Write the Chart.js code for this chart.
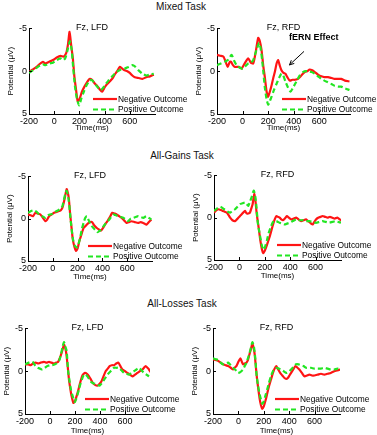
<!DOCTYPE html>
<html>
<head>
<meta charset="utf-8">
<script src="https://cdn.jsdelivr.net/npm/chart.js@4"></script>
<style>
  html, body { margin: 0; padding: 0; background: #fff; }
  body { width: 377px; height: 435px; position: relative; overflow: hidden; font-family: "Liberation Sans", Arial, sans-serif; }
  .hdr { position: absolute; font-size: 10px; color: #111; transform: translate(-50%, -50%); white-space: nowrap; }
  canvas { position: absolute; }
</style>
</head>
<body>
<script>
// ---------- labels ----------
const taskTitles = ['Mixed Task', 'All-Gains Task', 'All-Losses Task'];
const panelTitles = ['Fz, LFD', 'Fz, RFD'];
const seriesNames = ['Negative Outcome', 'Positive Outcome'];
const xTicks = [-200, 0, 200, 400, 600];
const yTicks = [-5, 0, 5];
const xAxisTitle = 'Time(ms)';
const yAxisTitle = 'Potential (\u03bcV)';
const annotationText = 'fERN Effect';

// ---------- Mixed task, LFD ----------
const mixedLfdNegT = [-200,-170,-140,-110,-90,-70,-40,-10,20,50,75,95,110,122,135,148,160,172,186,200,220,240,260,280,300,320,340,360,380,400,420,440,460,480,500,520,540,560,580,600,620,640,670,700,730,760,790];
const mixedLfdNegV = [0.1,-0.2,-0.5,-0.9,-1.1,-0.9,-1.1,-1.3,-1.6,-1.8,-1.7,-2.1,-3.2,-4.6,-3.0,-1.5,0.6,2.0,3.5,3.3,2.4,1.8,1.3,0.9,1.0,1.4,1.7,2.1,2.4,1.9,1.5,1.2,0.9,0.4,0.0,-0.5,-0.3,-0.1,0.0,0.2,0.5,0.7,0.8,0.9,0.7,0.6,0.4];
const mixedLfdPosT = [-200,-170,-140,-110,-90,-70,-40,-10,20,50,75,90,105,124,138,150,165,180,198,215,235,255,275,295,315,340,370,390,410,430,455,480,505,530,560,590,620,645,670,700,730,760,790];
const mixedLfdPosV = [0.2,-0.1,-0.4,-0.7,-0.8,-0.7,-0.9,-1.0,-1.3,-1.5,-1.3,-1.6,-2.4,-3.5,-2.6,-0.5,1.8,3.2,4.0,3.2,2.4,1.7,1.2,1.0,1.3,1.8,2.2,1.9,1.5,1.1,0.7,0.3,0.0,-0.2,-0.3,-0.5,-0.7,-0.5,-0.1,0.3,0.5,0.4,0.3];

// ---------- Mixed task, RFD ----------
const mixedRfdNegT = [-200,-175,-150,-130,-117,-100,-90,-75,-60,-30,-8,20,44,65,83,100,122,135,148,162,174,188,200,213,226,240,252,266,278,290,304,320,335,350,369,390,408,430,447,465,486,505,525,545,564,590,616,640,668,695,719,745,771,800,836];
const mixedRfdNegV = [-1.9,-1.8,-1.7,-1.0,-0.5,-1.1,-1.1,-0.7,-0.5,-0.5,-0.3,-1.0,-1.5,-1.0,-0.9,-2.0,-3.9,-3.5,-2.5,-0.6,0.7,2.4,3.0,2.4,1.7,0.8,0.1,-0.9,-1.3,-0.7,-0.1,0.2,0.3,0.7,1.1,1.0,1.0,0.9,0.7,0.4,0.1,0.0,-0.2,-0.1,0.1,0.4,0.6,0.7,0.7,0.8,0.9,0.9,0.9,1.1,1.2];
const mixedRfdPosT = [-200,-170,-138,-115,-86,-65,-47,-20,0,22,44,65,83,109,130,142,153,163,174,187,200,213,226,245,265,285,304,318,335,355,375,392,410,428,447,473,490,512,540,564,590,616,640,668,695,719,745,771,800,836];
const mixedRfdPosV = [-0.7,-0.9,-1.1,-1.3,-1.9,-1.2,-0.7,-0.4,-0.3,-0.6,-0.9,-1.0,-1.3,-2.5,-3.3,-2.6,-1.3,0.2,1.9,3.2,3.9,3.5,3.0,2.2,1.5,0.8,0.3,0.5,1.2,1.9,2.4,2.0,1.5,1.0,0.5,0.1,0.0,0.0,0.1,0.3,0.6,0.9,1.1,1.3,1.5,1.7,1.8,1.8,2.0,2.2];

// ---------- All-Gains task, LFD ----------
const gainsLfdNegT = [-200,-180,-160,-140,-120,-100,-80,-60,-45,-30,-10,10,30,50,65,78,90,100,112,122,130,140,148,160,172,187,200,213,230,248,268,288,315,335,355,375,389,405,421,440,460,480,500,515,535,555,575,595,615,635,660,688,710,728,742,755,775,795];
const gainsLfdNegV = [-0.5,-0.4,-0.3,-0.7,-0.6,-0.5,-0.1,0.3,0.1,-0.3,-0.5,-0.7,-0.8,-0.9,-1.0,-1.3,-2.0,-2.7,-3.5,-3.0,-2.3,-0.5,0.6,2.3,3.2,3.8,3.5,2.7,1.9,1.1,0.8,0.5,0.4,0.8,1.1,1.3,1.4,1.1,0.7,0.3,-0.2,-0.7,-0.6,-0.5,-0.3,-0.1,0.2,0.5,0.4,0.3,0.4,0.5,0.4,0.5,0.6,0.7,0.4,0.1];
const gainsLfdPosT = [-200,-175,-152,-130,-110,-85,-60,-40,-20,0,20,45,65,78,92,102,112,125,135,145,155,165,178,193,205,220,235,250,262,275,290,310,328,345,360,381,395,408,430,450,470,488,510,528,550,568,590,608,628,648,668,688,710,730,755,775,795];
const gainsLfdPosV = [-0.7,-0.9,-1.0,-0.8,-0.5,-0.3,-0.1,-0.4,-0.5,-0.6,-0.8,-1.0,-1.2,-1.5,-2.4,-3.0,-3.3,-2.5,-1.3,0.3,1.6,2.6,3.2,3.4,3.1,2.3,1.2,0.4,-0.1,-0.3,0.2,0.8,1.1,1.4,1.6,1.4,1.2,0.9,0.5,0.2,-0.2,-0.5,-0.4,-0.3,-0.2,-0.1,0.1,0.3,0.0,-0.1,-0.2,-0.3,-0.2,-0.1,-0.3,-0.1,0.1];

// ---------- All-Gains task, RFD ----------
const gainsRfdNegT = [-200,-180,-164,-145,-130,-115,-99,-85,-73,-55,-34,-20,-8,5,18,30,44,57,70,83,96,104,117,127,136,148,157,166,178,187,200,213,226,239,252,265,278,291,304,317,330,343,358,374,390,408,428,447,466,486,505,525,540,551,565,577,590,603,620,640,655,675,694,713,732,750,771,790,810];
const gainsRfdNegV = [-0.6,-0.9,-1.0,-0.9,-0.8,-0.7,-0.6,-0.3,0.0,0.3,0.4,0.2,0.0,-0.2,-0.4,-0.6,-0.8,-0.5,-0.5,-0.6,-1.2,-1.6,-2.8,-1.9,-0.5,0.8,1.8,2.8,3.8,4.2,3.9,3.4,2.8,2.2,1.5,0.8,0.2,-0.2,-0.1,0.0,0.2,0.3,0.1,-0.2,0.0,0.2,0.1,0.0,0.2,0.4,0.3,0.2,0.4,0.5,0.7,0.8,0.5,0.2,0.0,-0.1,-0.2,-0.1,0.0,-0.1,0.0,0.1,0.0,0.2,0.4];
const gainsRfdPosT = [-200,-175,-150,-130,-110,-90,-73,-55,-34,-15,5,25,44,57,70,83,96,105,114,125,135,145,156,168,179,192,205,218,231,245,258,272,291,304,317,336,356,375,395,420,447,472,499,525,551,577,603,630,655,680,706,732,758,780,800];
const gainsRfdPosV = [-0.8,-1.1,-1.3,-1.1,-0.9,-0.7,-0.6,-0.8,-1.0,-1.3,-1.6,-1.7,-1.8,-1.6,-1.4,-1.9,-2.4,-2.9,-3.2,-2.5,-1.2,0.6,1.6,2.6,3.4,3.8,3.3,2.6,1.8,1.2,0.7,0.4,0.4,0.5,0.6,0.7,0.8,0.7,0.6,0.4,0.2,0.3,0.3,0.4,0.4,0.5,0.6,0.5,0.4,0.5,0.6,0.5,0.4,0.5,0.6];

// ---------- All-Losses task, LFD ----------
const lossesLfdNegT = [-200,-175,-155,-135,-115,-95,-75,-48,-28,-8,12,32,50,65,85,100,112,122,131,142,152,162,171,187,200,211,225,237,248,259,270,280,295,312,328,344,360,379,395,411,428,445,462,477,495,512,530,547,563,579,600,619,640,659,680,699,720,739,752,765,780,792,805];
const lossesLfdNegV = [-0.8,-0.8,-0.7,-0.9,-1.0,-0.9,-1.0,-1.1,-1.0,-1.1,-1.0,-0.9,-1.0,-1.1,-1.8,-2.5,-3.1,-2.7,-2.0,-0.5,1.0,2.0,2.8,3.7,3.5,3.0,2.3,1.6,1.0,0.5,0.3,0.2,0.3,0.6,1.0,1.4,1.6,1.7,1.5,1.2,0.6,0.0,-0.3,-0.6,-0.7,-0.7,-0.9,-1.0,-0.6,-0.2,0.0,0.2,0.4,0.6,0.4,0.2,0.0,-0.2,-0.4,-0.6,-0.4,-0.2,0.1];
const lossesLfdPosT = [-200,-170,-141,-120,-100,-80,-61,-40,-21,0,19,40,59,75,88,100,112,122,133,145,157,168,179,197,208,219,232,245,259,272,285,299,312,325,345,365,381,397,415,432,452,472,492,512,532,552,572,592,612,632,652,672,692,712,732,752,772,792];
const lossesLfdPosV = [-0.8,-1.0,-1.1,-0.7,-0.4,-0.3,-0.2,-0.4,-0.6,-0.7,-0.7,-0.8,-1.0,-1.3,-2.0,-2.8,-3.4,-2.9,-2.4,0.0,1.2,2.2,2.8,3.6,3.3,2.8,2.1,1.4,0.8,0.4,0.4,0.6,0.9,1.2,1.4,1.5,1.6,1.7,1.4,1.0,0.6,0.2,-0.1,-0.4,-0.4,-0.4,-0.1,0.2,0.3,0.4,0.2,0.0,-0.2,-0.4,-0.1,0.2,0.4,0.6];

// ---------- All-Losses task, RFD ----------
const lossesRfdNegT = [-200,-180,-159,-140,-120,-100,-81,-60,-42,-30,-16,0,16,27,37,50,63,75,84,97,110,120,128,137,146,156,167,178,188,200,214,227,240,256,272,285,298,313,329,346,363,376,389,402,415,432,449,465,480,500,520,540,559,578,598,625,650,676,702,728,755,780,807];
const lossesRfdNegV = [-1.4,-1.3,-1.2,-1.0,-0.8,-0.7,-0.6,-0.4,-0.2,-0.4,-0.6,-1.1,-1.5,-1.1,-0.8,-0.9,-1.0,-1.3,-1.8,-2.5,-3.2,-2.7,-2.0,-0.6,0.8,2.0,3.2,4.0,4.4,4.1,3.4,2.6,1.8,1.0,0.2,-0.3,-0.6,-0.2,0.2,0.5,0.8,0.9,0.8,0.5,0.2,-0.2,-0.6,-0.4,-0.2,0.2,0.6,0.5,0.4,0.5,0.5,0.4,0.3,0.4,0.3,0.2,0.0,-0.1,-0.2];
const lossesRfdPosT = [-200,-180,-159,-140,-120,-100,-81,-60,-42,-20,-3,15,37,50,63,75,86,98,110,122,133,144,154,163,172,188,200,214,227,240,256,272,285,298,318,337,356,376,395,415,434,454,474,493,513,533,553,572,598,624,650,676,702,728,755,780,807];
const lossesRfdPosV = [-1.5,-1.4,-1.3,-1.0,-0.8,-0.9,-1.0,-0.7,-0.4,-0.1,0.2,0.1,-0.2,-0.6,-1.0,-1.5,-2.0,-2.7,-3.4,-2.9,-1.5,0.6,1.6,2.4,3.0,3.8,3.5,2.8,2.1,1.4,0.6,0.0,-0.2,-0.4,-0.3,-0.2,0.0,0.2,0.1,-0.2,-0.5,-0.8,-0.8,-0.7,-0.6,-0.4,-0.4,-0.4,-0.3,-0.3,-0.3,-0.4,-0.3,-0.2,-0.2,-0.3,-0.2];

// ---------- styling / layout ----------
const FONT = '"Liberation Sans", Arial, sans-serif';
const RED = '#ff1414';
const GREEN = '#22e622';
Chart.defaults.font.family = FONT;
Chart.defaults.color = '#000';

const headers = [
  { text: taskTitles[0], x: 181, y: 6 },
  { text: taskTitles[1], x: 182, y: 155 },
  { text: taskTitles[2], x: 182, y: 303 }
];
headers.forEach(h => {
  const d = document.createElement('div');
  d.className = 'hdr';
  d.textContent = h.text;
  d.style.left = h.x + 'px';
  d.style.top = h.y + 'px';
  document.body.appendChild(d);
});

const panels = [
  { L: 29,  T: 28.7, R: 155, B: 113.7, xMax: 800, title: panelTitles[0], negT: mixedLfdNegT, negV: mixedLfdNegV, posT: mixedLfdPosT, posV: mixedLfdPosV, legX: 64, timePad: 5.2, edge: 188 },
  { L: 217, T: 28.7, R: 350, B: 113.7, xMax: 840, title: panelTitles[1], negT: mixedRfdNegT, negV: mixedRfdNegV, posT: mixedRfdPosT, posV: mixedRfdPosV, legX: 65, timePad: 5.2, edge: 377, fern: true },
  { L: 28,  T: 176,  R: 152, B: 260,   xMax: 800, title: panelTitles[0], negT: gainsLfdNegT, negV: gainsLfdNegV, posT: gainsLfdPosT, posV: gainsLfdPosV, legX: 60, timePad: 3.2, edge: 188 },
  { L: 214, T: 175,  R: 341, B: 259,   xMax: 800, title: panelTitles[1], negT: gainsRfdNegT, negV: gainsRfdNegV, posT: gainsRfdPosT, posV: gainsRfdPosV, legX: 63, timePad: 3.2, edge: 377 },
  { L: 25,  T: 328,  R: 150, B: 413,   xMax: 800, title: panelTitles[0], negT: lossesLfdNegT, negV: lossesLfdNegV, posT: lossesLfdPosT, posV: lossesLfdPosV, legX: 60, timePad: 2.2, edge: 188 },
  { L: 213, T: 328,  R: 340, B: 413,   xMax: 800, title: panelTitles[1], negT: lossesRfdNegT, negV: lossesRfdNegV, posT: lossesRfdPosT, posV: lossesRfdPosV, legX: 62, timePad: 2.2, edge: 377 }
];

const inwardTicks = {
  id: 'inwardTicks',
  afterDatasetsDraw(chart) {
    const { ctx, chartArea: a, scales: { x, y } } = chart;
    ctx.save();
    ctx.strokeStyle = '#000';
    ctx.lineWidth = 1;
    ctx.beginPath();
    x.ticks.forEach(t => {
      const px = Math.round(x.getPixelForValue(t.value)) + 0.5;
      ctx.moveTo(px, a.bottom); ctx.lineTo(px, a.bottom - 3);
    });
    y.ticks.forEach(t => {
      const py = Math.round(y.getPixelForValue(t.value)) + 0.5;
      ctx.moveTo(a.left, py); ctx.lineTo(a.left + 3, py);
    });
    ctx.stroke();
    ctx.restore();
  }
};

const outcomeLegend = {
  id: 'outcomeLegend',
  afterDraw(chart, args, opts) {
    const { ctx, chartArea: a } = chart;
    const x0 = a.left + opts.x;
    chart.data.datasets.forEach((ds, i) => {
      const y = a.bottom - (i === 0 ? 15 : 4.5);
      ctx.save();
      ctx.strokeStyle = ds.borderColor;
      ctx.lineWidth = 2.2;
      ctx.setLineDash(ds.borderDash || []);
      ctx.beginPath();
      ctx.moveTo(x0, y); ctx.lineTo(x0 + 24, y);
      ctx.stroke();
      ctx.setLineDash([]);
      ctx.fillStyle = '#000';
      ctx.font = '8.4px ' + FONT;
      ctx.textBaseline = 'middle';
      ctx.textAlign = 'left';
      ctx.fillText(ds.label, x0 + 25, y + 0.5);
      ctx.restore();
    });
  }
};

const fernNote = {
  id: 'fernNote',
  afterDraw(chart, args, opts) {
    if (!opts.show) return;
    const { ctx, chartArea: a } = chart;
    ctx.save();
    ctx.fillStyle = '#000';
    ctx.font = 'bold 9px ' + FONT;
    ctx.textBaseline = 'middle';
    ctx.fillText(annotationText, a.left + 72, a.top + 9.5);
    const x1 = a.left + 87, y1 = a.top + 23, x2 = a.left + 72.5, y2 = a.top + 36.5;
    ctx.strokeStyle = '#000';
    ctx.lineWidth = 1;
    ctx.beginPath(); ctx.moveTo(x1, y1); ctx.lineTo(x2, y2); ctx.stroke();
    const ang = Math.atan2(y2 - y1, x2 - x1);
    ctx.beginPath();
    ctx.moveTo(x2 - 5 * Math.cos(ang - 0.45), y2 - 5 * Math.sin(ang - 0.45));
    ctx.lineTo(x2, y2);
    ctx.lineTo(x2 - 5 * Math.cos(ang + 0.45), y2 - 5 * Math.sin(ang + 0.45));
    ctx.stroke();
    ctx.restore();
  }
};

panels.forEach(p => {
  const yW = 26, xH = 24, padTop = 4, titleBox = 6.4;
  const cl = p.L - yW;
  const ct = p.T - titleBox - padTop;
  const cw = p.edge - cl;
  const ch = Math.ceil(titleBox + padTop + (p.B - p.T) + xH);
  const cv = document.createElement('canvas');
  cv.width = cw; cv.height = ch;
  cv.style.left = cl + 'px'; cv.style.top = ct + 'px';
  cv.style.width = cw + 'px'; cv.style.height = ch + 'px';
  document.body.appendChild(cv);
  const pts = (ts, vs) => ts.map((t, i) => ({ x: t, y: vs[i] }));
  new Chart(cv, {
    type: 'line',
    data: {
      datasets: [
        { label: seriesNames[0], data: pts(p.negT, p.negV), borderColor: RED, borderWidth: 2.2, pointRadius: 0, tension: 0.2, fill: false, order: 1 },
        { label: seriesNames[1], data: pts(p.posT, p.posV), borderColor: GREEN, borderWidth: 2.2, borderDash: [5, 3], pointRadius: 0, tension: 0.2, fill: false, order: 0 }
      ]
    },
    options: {
      responsive: false,
      animation: false,
      devicePixelRatio: 1,
      layout: { padding: { left: 0, top: padTop, right: p.edge - p.R, bottom: 0 } },
      plugins: {
        legend: { display: false },
        tooltip: { enabled: false },
        title: { display: true, fullSize: false, text: p.title, color: '#000', font: { family: FONT, size: 9, weight: 'normal' }, padding: { top: 0, bottom: titleBox - 10.8 } },
        outcomeLegend: { x: p.legX },
        fernNote: { show: !!p.fern }
      },
      scales: {
        x: {
          type: 'linear', min: -200, max: p.xMax,
          grid: { display: false, drawTicks: false },
          border: { display: true, color: '#000', width: 1 },
          afterBuildTicks: s => { s.ticks = xTicks.map(v => ({ value: v })); },
          afterFit: s => { s.height = xH; },
          ticks: { font: { family: FONT, size: 9 }, color: '#000', padding: 2, maxRotation: 0, autoSkip: false },
          title: { display: true, text: xAxisTitle, color: '#000', font: { family: FONT, size: 8 }, padding: { top: 0, bottom: p.timePad } }
        },
        y: {
          type: 'linear', min: -5, max: 5, reverse: true,
          grid: { display: false, drawTicks: false },
          border: { display: true, color: '#000', width: 1 },
          afterBuildTicks: s => { s.ticks = yTicks.map(v => ({ value: v })); },
          afterFit: s => { s.width = yW; },
          ticks: { font: { family: FONT, size: 9 }, color: '#000', padding: 2 },
          title: { display: true, text: yAxisTitle, color: '#000', font: { family: FONT, size: 8 }, padding: { top: 3, bottom: 0 } }
        }
      }
    },
    plugins: [inwardTicks, outcomeLegend, fernNote]
  });
});
</script>
</body>
</html>
